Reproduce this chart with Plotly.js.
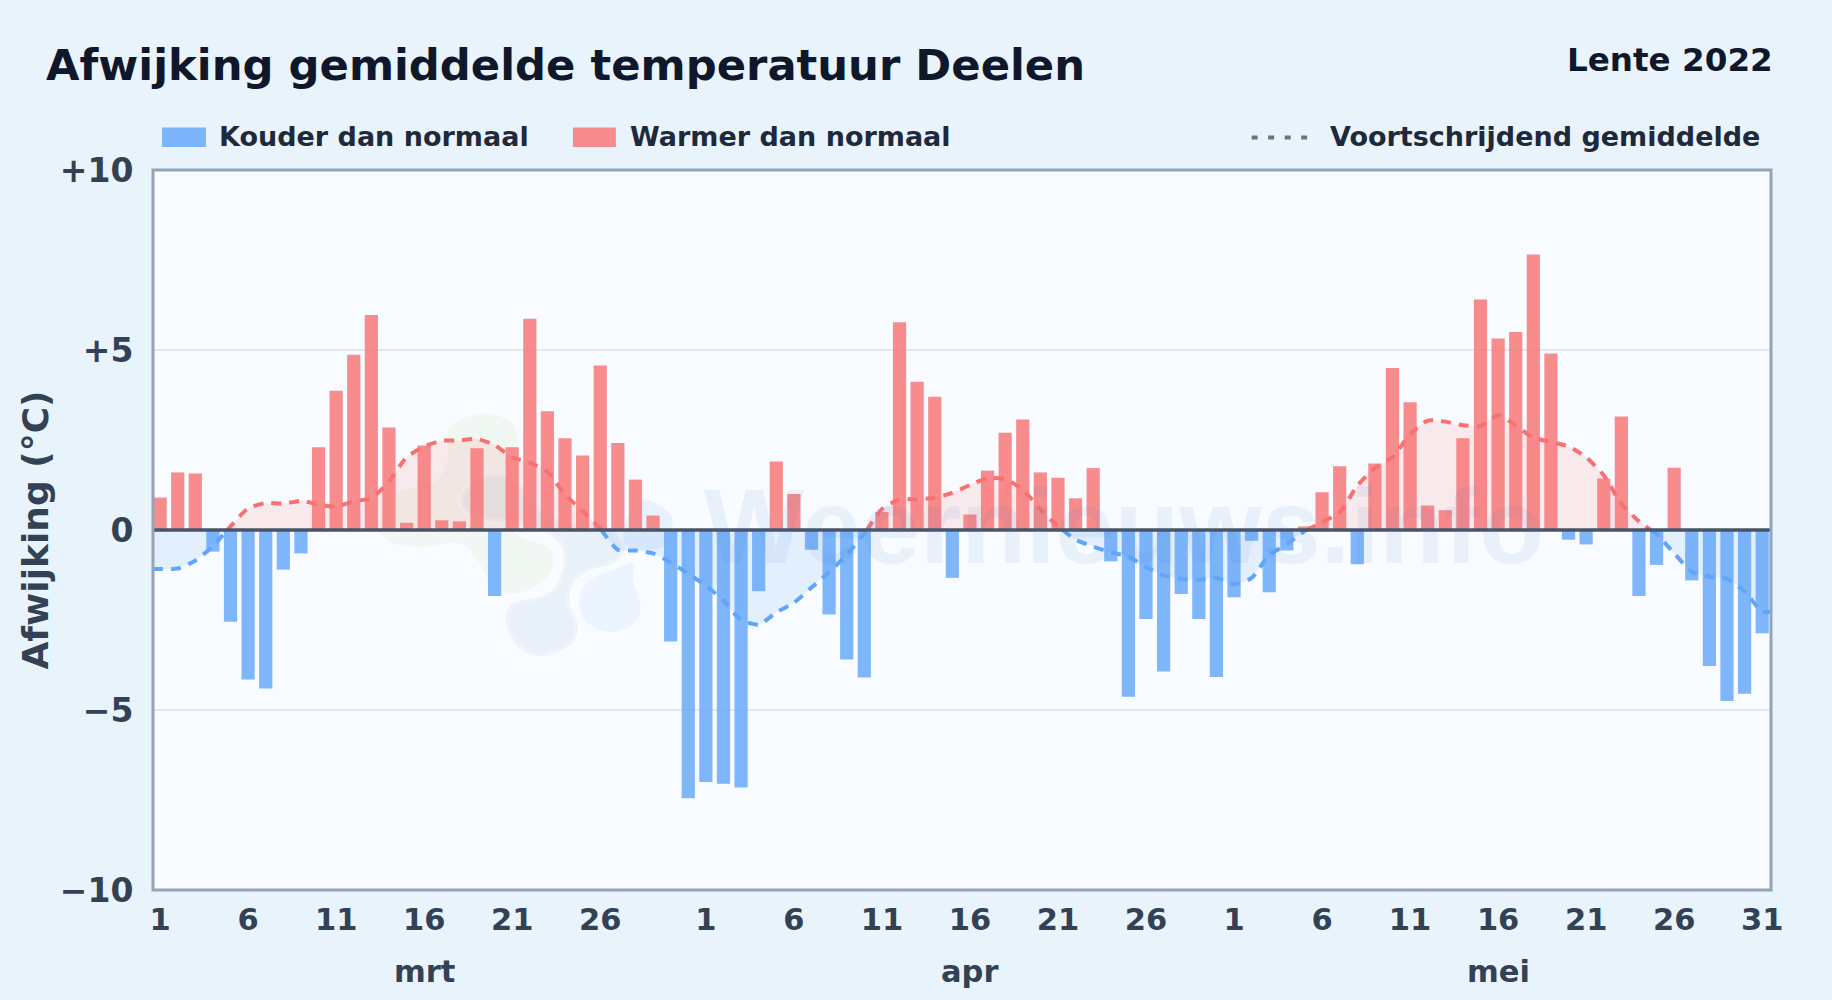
<!DOCTYPE html>
<html>
<head>
<meta charset="utf-8">
<script src="https://cdn.plot.ly/plotly-3.0.1.min.js"></script>
<style>html,body{margin:0;padding:0;background:#e9f3fc}#chart{width:1832px;height:1000px}</style>
</head>
<body>
<div id="chart"></div>
<script>
const monthNames = ['mrt', 'apr', 'mei'];
const monthLengths = [31, 30, 31];
const dayTicks = [[1,6,11,16,21,26],[1,6,11,16,21,26],[1,6,11,16,21,26,31]];
const yTickVals = [10, 5, 0, -5, -10];
const yTickText = ['+10', '+5', '0', '\u22125', '\u221210'];

const marchDev = [0.9,1.6,1.57,-0.6,-2.55,-4.15,-4.4,-1.1,-0.65,2.3,3.87,4.87,5.97,2.85,0.2,2.35,0.27,0.24,2.27,-1.83,2.3,5.87,3.3,2.55,2.07,4.57,2.42,1.4,0.4,-3.1,-7.45];
const aprilDev = [-7.0,-7.05,-7.15,-1.7,1.9,1.0,-0.55,-2.35,-3.6,-4.1,0.5,5.77,4.12,3.7,-1.33,0.43,1.65,2.7,3.07,1.6,1.45,0.88,1.72,-0.87,-4.63,-2.47,-3.93,-1.78,-2.47,-4.08];
const mayDev = [-1.87,-0.3,-1.73,-0.57,0.1,1.05,1.77,-0.95,1.85,4.5,3.55,0.68,0.55,2.55,6.4,5.32,5.5,7.65,4.9,-0.27,-0.4,1.43,3.15,-1.83,-0.97,1.73,-1.4,-3.78,-4.75,-4.55,-2.87];

const marchAvg = [-1.08,-1.07,-0.85,-0.45,0.1,0.6,0.75,0.73,0.81,0.71,0.65,0.8,0.88,1.35,2.02,2.32,2.48,2.49,2.53,2.36,2.02,1.87,1.62,0.98,0.53,0.04,-0.55,-0.57,-0.65,-0.9,-1.22];
const aprilAvg = [-1.54,-1.97,-2.5,-2.63,-2.29,-2.02,-1.6,-1.17,-0.69,-0.1,0.58,0.85,0.85,0.9,1.03,1.25,1.44,1.41,1.12,0.58,0.1,-0.27,-0.46,-0.62,-0.74,-1.03,-1.26,-1.36,-1.38,-1.33];
const mayAvg = [-1.51,-1.33,-0.69,-0.4,-0.03,0.22,0.49,1.23,1.72,2.02,2.66,3.04,3.01,2.91,2.89,3.19,2.91,2.56,2.45,2.32,2.02,1.52,0.73,0.24,-0.11,-0.65,-1.16,-1.3,-1.36,-1.71,-2.27];

const W = 1832, H = 1000;
const M = {l:153, r:60.5, t:169.5, b:110};
const xMin = -0.403, xMax = 91.5;
const RED = '#f87171', BLUE = '#60a5fa';
const INK = '#334155';
const FONT = '"DejaVu Sans", sans-serif';

const dev = marchDev.concat(aprilDev, mayDev);
const avg = marchAvg.concat(aprilAvg, mayAvg);
const idx = dev.map((_, i) => i);

// x ticks
const tickVals = [], tickText = [];
let offset = 0;
dayTicks.forEach((days, m) => {
  days.forEach(d => { tickVals.push(offset + d - 1); tickText.push(String(d)); });
  offset += monthLengths[m];
});

// rolling mean, split at zero so that each side has its own colour
const lx = [xMin].concat(idx, [xMax]);
const ly = [avg[0]].concat(avg, [avg[avg.length - 1]]);
const sx = [], sy = [];
for (let i = 0; i < lx.length; i++) {
  sx.push(lx[i]); sy.push(ly[i]);
  if (i + 1 < lx.length && ly[i] * ly[i + 1] < 0) {
    sx.push(lx[i] + (lx[i + 1] - lx[i]) * (-ly[i]) / (ly[i + 1] - ly[i]));
    sy.push(0);
  }
}
const posLine = sy.map(v => v >= 0 ? v : null);
const negLine = sy.map(v => v <= 0 ? v : null);
const posFill = sy.map(v => Math.max(v, 0));
const negFill = sy.map(v => Math.min(v, 0));

const traces = [
  {type:'bar', name:'Kouder dan normaal', x:idx, y:dev.map(v => v < 0 ? v : null), width:0.75, marker:{color:'rgba(96,165,250,0.8)', line:{width:0}}},
  {type:'bar', name:'Warmer dan normaal', x:idx, y:dev.map(v => v >= 0 ? v : null), width:0.75, marker:{color:'rgba(248,113,113,0.8)', line:{width:0}}},
  {type:'scatter', mode:'none', x:sx, y:posFill, fill:'tozeroy', fillcolor:'rgba(248,113,113,0.13)', line:{shape:'spline', smoothing:0.6, width:0}, showlegend:false, hoverinfo:'skip'},
  {type:'scatter', mode:'none', x:sx, y:negFill, fill:'tozeroy', fillcolor:'rgba(96,165,250,0.13)', line:{shape:'spline', smoothing:0.6, width:0}, showlegend:false, hoverinfo:'skip'},
  {type:'scatter', mode:'lines', name:'Voortschrijdend gemiddelde', x:sx, y:posLine, line:{color:RED, width:4, dash:'10px,8px', shape:'spline', smoothing:0.6}},
  {type:'scatter', mode:'lines', name:'Voortschrijdend gemiddelde', x:sx, y:negLine, line:{color:BLUE, width:4, dash:'10px,8px', shape:'spline', smoothing:0.6}, showlegend:false}
];

// watermark logo, outlined in page pixels
const pw = W - M.l - M.r, ph = H - M.t - M.b;
function blob(pts) {
  const n = pts.length;
  const px = p => ((p[0] - M.l) / pw).toFixed(5) + ',' + (1 - (p[1] - M.t) / ph).toFixed(5);
  let d = 'M' + px(pts[0]);
  for (let i = 0; i < n; i++) {
    const p0 = pts[(i - 1 + n) % n], p1 = pts[i], p2 = pts[(i + 1) % n], p3 = pts[(i + 2) % n];
    const c1 = [p1[0] + (p2[0] - p0[0]) / 6, p1[1] + (p2[1] - p0[1]) / 6];
    const c2 = [p2[0] - (p3[0] - p1[0]) / 6, p2[1] - (p3[1] - p1[1]) / 6];
    d += ' C' + px(c1) + ' ' + px(c2) + ' ' + px(p2);
  }
  return d + ' Z';
}
const z6 = pts => pts.map(p => [370 + p[0] / 3, 400 + p[1] / 3]);
const logoGreen = z6([[240,80],[340,40],[420,65],[445,120],[430,190],[420,380],[530,440],[550,490],[510,550],[430,580],[370,560],[330,490],[270,430],[150,440],[60,425],[30,370],[60,290],[120,265],[200,240],[235,170]]);
const logoSlate = z6([[275,290],[320,235],[390,220],[450,250],[520,330],[600,370],[700,370],[765,440],[730,490],[660,510],[610,550],[600,610],[625,680],[600,735],[520,768],[450,745],[408,670],[430,610],[540,575],[580,490],[560,420],[450,370],[340,360],[285,330]]);
const logoBlueA = z6([[630,590],[660,540],[730,510],[790,490],[790,540],[812,620],[790,670],[730,695],[670,680],[635,640]]);
const logoBlueB = z6([[760,420],[780,340],[830,300],[900,340],[905,400],[880,440],[800,445]]);

function logoShape(pts, fill, edge) {
  return {type:'path', xref:'paper', yref:'paper', path:blob(pts), fillcolor:fill, line:{color:edge, width:edge ? 7 : 0}, layer:'below'};
}
const shapes = [
  logoShape(logoGreen, 'rgba(190,220,130,0.10)', 'rgba(0,0,0,0)'),
  logoShape(logoSlate, 'rgba(100,150,200,0.10)', 'rgba(255,255,255,0.3)'),
  logoShape(logoBlueA, 'rgba(96,165,250,0.08)', 'rgba(0,0,0,0)'),
  logoShape(logoBlueB, 'rgba(96,165,250,0.10)', 'rgba(0,0,0,0)'),
  {type:'line', xref:'paper', yref:'y', x0:0, x1:1, y0:0, y1:0, line:{color:'#475569', width:3.5}, layer:'above'},
  {type:'rect', xref:'paper', yref:'paper', x0:0, x1:1, y0:0, y1:1, fillcolor:'rgba(0,0,0,0)', line:{color:'#94a3b8', width:3}, layer:'above'},
  {type:'rect', xref:'paper', yref:'paper', x0:(162-M.l)/pw, x1:(206-M.l)/pw, y0:1-(146.5-M.t)/ph, y1:1-(127-M.t)/ph, fillcolor:'rgba(96,165,250,0.8)', line:{width:0}},
  {type:'rect', xref:'paper', yref:'paper', x0:(573-M.l)/pw, x1:(616-M.l)/pw, y0:1-(146.5-M.t)/ph, y1:1-(127-M.t)/ph, fillcolor:'rgba(248,113,113,0.8)', line:{width:0}},
  {type:'line', xref:'paper', yref:'paper', x0:(1252-M.l)/pw, x1:(1308-M.l)/pw, y0:1-(137-M.t)/ph, y1:1-(137-M.t)/ph, line:{color:'#64748b', width:4, dash:'6px,10.5px'}}
];

function note(text, px, py, size, color, anchor, family) {
  return {text:text, xref:'paper', yref:'paper', x:(px-M.l)/pw, y:1-(py-M.t)/ph, xanchor:anchor||'left', yanchor:'middle', showarrow:false, font:{family:family||FONT, size:size, color:color, weight:700}};
}
const annotations = [
  note('Weernieuws.info', 702, 526, 106, 'rgba(70,130,200,0.085)', 'left', '"Liberation Sans", sans-serif'),
  note('Lente 2022', 1775.5, 59.5, 32.6, '#0f172a', 'right'),
  note('Kouder dan normaal', 217, 136, 27, '#1e293b'),
  note('Warmer dan normaal', 628, 136, 27, '#1e293b'),
  note('Voortschrijdend gemiddelde', 1328, 136, 27, '#1e293b')
];
offset = 0;
monthNames.forEach((name, m) => {
  annotations.push({text:name, xref:'x', yref:'paper', x:offset + 15, y:1-(972-M.t)/ph, xanchor:'center', yanchor:'middle', showarrow:false, font:{family:FONT, size:30.5, color:INK, weight:700}});
  offset += monthLengths[m];
});

const layout = {
  width:W, height:H, margin:M,
  paper_bgcolor:'#e9f3fc', plot_bgcolor:'#f8fbff',
  barmode:'overlay', showlegend:false, font:{family:FONT},
  title:{text:'Afwijking gemiddelde temperatuur Deelen', x:46/W, xref:'container', xanchor:'left', y:1-65/H, yref:'container', yanchor:'middle', font:{family:FONT, size:43.3, color:'#0f172a', weight:700}},
  xaxis:{range:[xMin, xMax], tickmode:'array', tickvals:tickVals, ticktext:tickText, showgrid:false, zeroline:false,
    ticks:'outside', ticklen:2.5, tickcolor:'rgba(0,0,0,0)', tickangle:0, tickfont:{family:FONT, size:30.5, color:INK, weight:700},
    showline:false},
  yaxis:{range:[-10, 10], tickmode:'array', tickvals:yTickVals, ticktext:yTickText, zeroline:false,
    showgrid:true, gridcolor:'#e2e8f0', gridwidth:2,
    ticks:'outside', ticklen:12, tickcolor:'rgba(0,0,0,0)', tickfont:{family:FONT, size:33, color:INK, weight:700},
    showline:false,
    title:{text:'Afwijking (\u00b0C)', standoff:0, font:{family:FONT, size:36, color:INK, weight:700}}},
  shapes:shapes, annotations:annotations
};
Plotly.newPlot('chart', traces, layout, {displayModeBar:false, responsive:false});
</script>
</body>
</html>
